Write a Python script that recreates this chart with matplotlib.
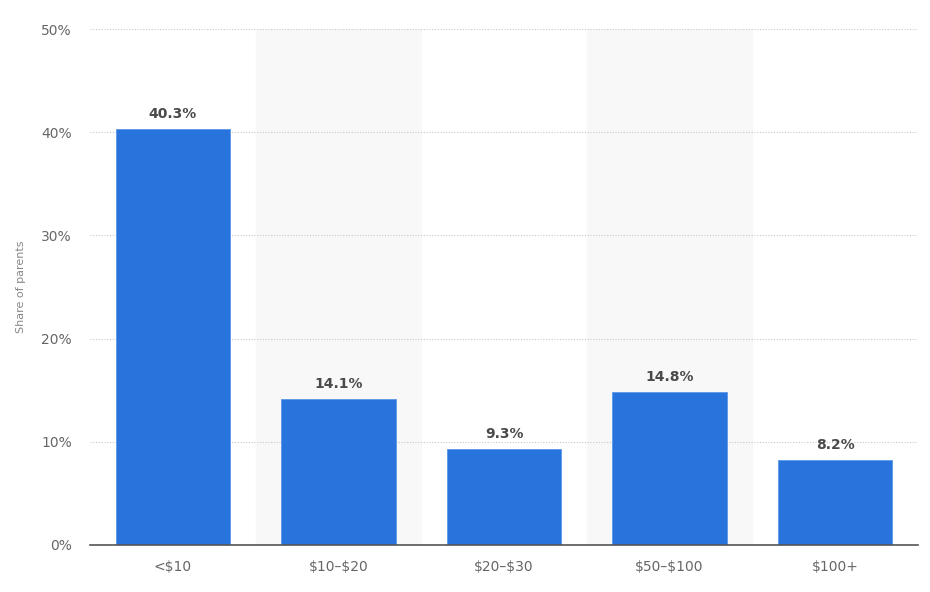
## Import libraries
import numpy as np
from matplotlib import pyplot as plt

## Data
categories = ['<$10', '$10–$20', '$20–$30', '$50–$100', '$100+']
shares = [40.3, 14.1, 9.3, 14.8, 8.2]
y_ticks = [0, 10, 20, 30, 40, 50]

plt.rcParams['font.family'] = ['DejaVu Sans']
plt.rcParams['text.parse_math'] = False

fig = plt.figure(figsize=(9.3, 5.92), dpi=100)
ax = fig.add_axes([0.0968, 0.0794, 0.8903, 0.8716])

x = np.arange(len(categories))

## Shaded bands behind every other category
for i in x[1::2]:
    ax.axvspan(i - 0.5, i + 0.5, color='#f8f8f8', zorder=0)

bars = ax.bar(x, shares, width=0.69, color='#2874dc', edgecolor='#5a97e8',
              linewidth=0.6, zorder=3)

for xi, v in zip(x, shares):
    ax.text(xi, v + 0.8, '{0:.1f}%'.format(v), ha='center', va='bottom',
            fontsize=10, fontweight='bold', color='#4a4a4a', zorder=4)

ax.set_xlim(-0.5, len(categories) - 0.5)
ax.set_ylim(0, 50)
ax.set_yticks(y_ticks)
ax.set_yticklabels(['{0}%'.format(t) for t in y_ticks])
ax.set_xticks(x)
ax.set_xticklabels(categories)

ax.grid(axis='y', linestyle=(0, (1, 1.5)), color='#c8c8c8', linewidth=0.8, zorder=1)
ax.set_axisbelow(True)

for side in ['top', 'right', 'left']:
    ax.spines[side].set_visible(False)
ax.spines['bottom'].set_color('#555555')
ax.spines['bottom'].set_linewidth(1.2)
ax.spines['bottom'].set_zorder(5)

ax.tick_params(axis='both', length=0, labelsize=10, colors='#666666')
ax.tick_params(axis='x', pad=11)
ax.tick_params(axis='y', pad=13)

ax.set_ylabel('Share of parents', fontsize=8, color='#888888', labelpad=11)

fig.savefig('out.png', dpi=100)
plt.close('all')
